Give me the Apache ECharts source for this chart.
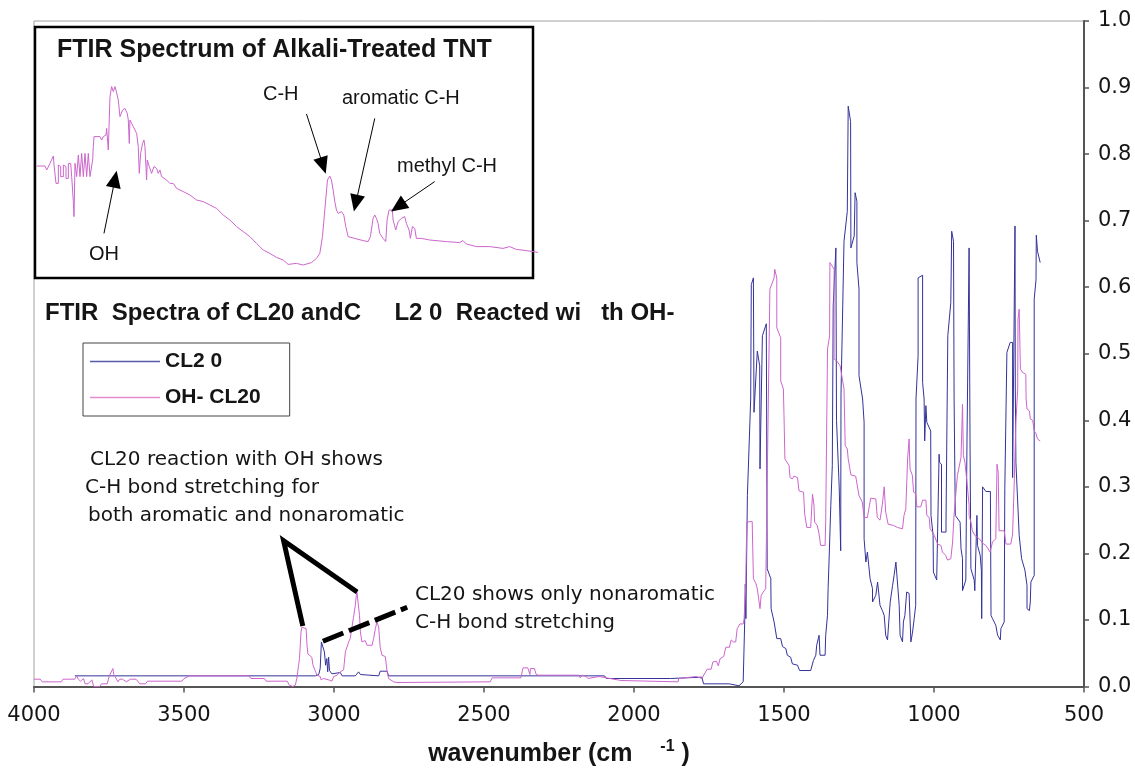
<!DOCTYPE html>
<html>
<head>
<meta charset="utf-8">
<script src="https://cdn.jsdelivr.net/npm/echarts@6/dist/echarts.min.js"></script>
<style>
  html, body { margin: 0; padding: 0; background: #fff; }
  #chart { width: 1135px; height: 772px; }
</style>
</head>
<body>
<div id="chart"></div>
<script>
// ---- CL20 spectrum: wavenumber (cm-1) and absorbance ----
const cl20Nu = [3864,3062,3051,3046,3042,3037,3032,3028,3024,3021,3018,3015,3010,3007,2979,2973,2929,2923,2918,2912,2907,2851,2846,2823,2818,2098,2092,1878,1872,1774,1768,1682,1676,1650,1636,1631,1629,1627,1622,1611,1609,1602,1600,1589,1581,1580,1572,1559,1556,1544,1543,1533,1524,1511,1505,1494,1489,1478,1472,1455,1448,1411,1402,1394,1391,1383,1380,1363,1361,1355,1353,1350,1344,1339,1336,1327,1325,1316,1311,1310,1300,1289,1286,1283,1278,1277,1266,1263,1257,1257,1250,1250,1238,1233,1233,1227,1222,1216,1213,1205,1205,1200,1194,1188,1188,1183,1180,1172,1166,1161,1155,1150,1146,1138,1133,1127,1122,1116,1113,1105,1102,1097,1091,1083,1077,1072,1066,1061,1060,1053,1053,1038,1038,1033,1031,1027,1024,1011,1010,1003,1002,991,983,982,975,975,960,960,955,954,944,941,935,933,929,913,910,905,905,894,890,883,880,877,866,864,857,855,846,842,841,838,832,827,812,810,805,794,788,779,777,766,764,757,746,738,738,732,730,729,727,716,712,708,697,690,690,682,679,677,666,666,660,659,655,646];
const cl20Abs = [0.016,0.016,0.018,0.027,0.067,0.066,0.052,0.032,0.042,0.022,0.044,0.024,0.022,0.019,0.021,0.016,0.016,0.018,0.022,0.018,0.016,0.016,0.023,0.023,0.016,0.016,0.012,0.012,0.014,0.014,0.004,0.004,0.001,0.001,0.007,0.097,0.154,0.102,0.287,0.432,0.604,0.614,0.412,0.504,0.482,0.327,0.527,0.545,0.177,0.162,0.117,0.097,0.072,0.072,0.060,0.057,0.047,0.044,0.034,0.032,0.024,0.024,0.039,0.047,0.062,0.077,0.047,0.047,0.077,0.107,0.147,0.187,0.272,0.332,0.572,0.659,0.400,0.300,0.204,0.440,0.669,0.714,0.872,0.870,0.849,0.659,0.677,0.742,0.729,0.637,0.597,0.467,0.432,0.397,0.222,0.187,0.202,0.200,0.162,0.147,0.127,0.127,0.137,0.137,0.157,0.154,0.122,0.114,0.107,0.077,0.070,0.070,0.127,0.152,0.167,0.187,0.184,0.122,0.077,0.067,0.097,0.107,0.142,0.140,0.067,0.080,0.102,0.122,0.432,0.497,0.614,0.618,0.457,0.432,0.369,0.422,0.397,0.384,0.257,0.227,0.172,0.160,0.349,0.337,0.334,0.232,0.232,0.247,0.247,0.527,0.577,0.684,0.669,0.432,0.257,0.247,0.207,0.192,0.144,0.160,0.372,0.659,0.372,0.177,0.160,0.144,0.257,0.212,0.197,0.174,0.102,0.300,0.302,0.293,0.293,0.107,0.102,0.092,0.077,0.070,0.087,0.097,0.297,0.502,0.517,0.517,0.314,0.317,0.692,0.447,0.337,0.227,0.224,0.192,0.175,0.152,0.117,0.114,0.127,0.157,0.167,0.582,0.611,0.678,0.654,0.637];

// ---- CL20 reacted with OH- ----
const ohNu = [4000,3979,3973,3909,3903,3890,3884,3877,3864,3858,3852,3845,3835,3830,3820,3807,3801,3781,3775,3756,3749,3743,3737,3734,3728,3720,3714,3705,3692,3679,3660,3647,3628,3622,3507,3500,3481,3283,3277,3232,3226,3156,3149,3137,3129,3124,3118,3115,3110,3107,3101,3093,3090,3087,3074,3070,3063,3057,3046,3043,3035,3018,3012,3007,3001,2990,2979,2968,2962,2957,2951,2946,2940,2935,2929,2924,2918,2915,2912,2907,2896,2890,2873,2868,2862,2857,2851,2846,2840,2829,2823,2818,2812,2801,2790,2479,2473,2377,2370,2354,2347,2345,2332,2326,2319,2185,2179,2172,2160,2153,2117,2043,2037,1853,1851,1792,1774,1756,1743,1737,1725,1719,1713,1701,1694,1682,1676,1669,1661,1656,1650,1647,1636,1633,1628,1624,1606,1602,1594,1589,1583,1580,1576,1569,1561,1556,1547,1533,1531,1524,1524,1511,1511,1502,1500,1497,1483,1480,1472,1467,1455,1450,1435,1431,1424,1411,1405,1400,1398,1389,1383,1378,1363,1361,1355,1348,1347,1333,1333,1324,1313,1300,1296,1289,1286,1280,1277,1261,1255,1250,1239,1233,1222,1211,1194,1189,1180,1172,1166,1161,1153,1135,1122,1105,1100,1094,1088,1083,1080,1072,1068,1061,1057,1044,1038,1027,1024,1016,1013,1005,999,988,977,972,961,955,944,938,933,927,922,910,905,902,897,890,883,883,877,872,864,849,835,827,813,805,794,790,786,783,777,766,760,744,738,733,727,721,720,716,712,705,694,693,690,682,679,671,666,660,655,646];
const ohAbs = [0.011,0.011,0.007,0.007,0.011,0.011,0.008,0.011,0.011,0.016,0.011,0.008,0.012,0.004,0.004,0.010,0.000,0.000,0.004,0.004,0.016,0.018,0.027,0.018,0.017,0.007,0.011,0.011,0.007,0.011,0.011,0.004,0.004,0.008,0.008,0.012,0.016,0.016,0.012,0.012,0.008,0.008,0.002,0.000,0.002,0.012,0.032,0.042,0.082,0.089,0.091,0.087,0.062,0.049,0.044,0.032,0.024,0.017,0.015,0.010,0.012,0.010,0.007,0.008,0.015,0.017,0.022,0.025,0.052,0.055,0.067,0.072,0.075,0.104,0.122,0.144,0.144,0.107,0.082,0.067,0.069,0.062,0.062,0.072,0.087,0.097,0.089,0.059,0.047,0.045,0.022,0.012,0.012,0.007,0.006,0.007,0.013,0.013,0.028,0.028,0.018,0.027,0.027,0.018,0.017,0.017,0.013,0.017,0.015,0.012,0.015,0.009,0.007,0.007,0.012,0.015,0.012,0.026,0.026,0.037,0.038,0.031,0.042,0.045,0.059,0.059,0.070,0.067,0.067,0.087,0.087,0.094,0.094,0.102,0.147,0.247,0.248,0.162,0.155,0.147,0.127,0.117,0.137,0.142,0.147,0.147,0.597,0.614,0.627,0.614,0.539,0.524,0.459,0.447,0.407,0.342,0.332,0.314,0.312,0.316,0.314,0.294,0.292,0.259,0.239,0.239,0.289,0.272,0.247,0.242,0.229,0.212,0.212,0.247,0.507,0.527,0.637,0.627,0.492,0.489,0.482,0.447,0.362,0.357,0.342,0.340,0.318,0.316,0.300,0.287,0.277,0.254,0.254,0.283,0.282,0.254,0.250,0.274,0.300,0.262,0.244,0.242,0.239,0.237,0.257,0.267,0.342,0.372,0.327,0.317,0.292,0.290,0.270,0.270,0.280,0.280,0.257,0.254,0.237,0.232,0.227,0.214,0.212,0.202,0.197,0.190,0.192,0.217,0.259,0.262,0.317,0.344,0.424,0.347,0.337,0.307,0.272,0.257,0.247,0.234,0.227,0.222,0.214,0.212,0.202,0.217,0.222,0.334,0.322,0.234,0.232,0.234,0.214,0.214,0.229,0.300,0.397,0.447,0.552,0.567,0.477,0.472,0.469,0.432,0.417,0.414,0.402,0.400,0.384,0.380,0.372,0.369];

// ---- Alkali-treated TNT (inset) ----
const tntNu = [4000,3975,3970,3960,3950,3948,3942,3942,3935,3935,3928,3928,3920,3920,3912,3912,3905,3905,3898,3895,3890,3888,3885,3880,3875,3870,3865,3860,3855,3850,3845,3840,3835,3832,3830,3828,3810,3805,3800,3792,3790,3785,3780,3775,3770,3765,3762,3758,3755,3750,3742,3735,3728,3725,3722,3720,3715,3710,3700,3695,3692,3688,3682,3678,3675,3670,3668,3662,3655,3648,3640,3635,3630,3625,3620,3610,3600,3590,3580,3560,3540,3520,3500,3480,3460,3440,3420,3400,3380,3360,3340,3320,3300,3280,3260,3245,3220,3200,3175,3160,3150,3142,3135,3127,3120,3115,3110,3105,3100,3095,3085,3078,3072,3065,3045,3020,3005,2998,2990,2985,2980,2975,2970,2960,2952,2948,2942,2938,2932,2930,2922,2915,2905,2895,2890,2882,2878,2872,2865,2860,2845,2820,2770,2730,2720,2710,2680,2640,2600,2580,2560,2530,2495];
const tntAbs = [0.520,0.520,0.500,0.533,0.570,0.525,0.525,0.433,0.433,0.525,0.517,0.467,0.467,0.525,0.517,0.458,0.458,0.533,0.533,0.467,0.342,0.267,0.533,0.467,0.575,0.467,0.583,0.467,0.583,0.467,0.583,0.467,0.467,0.550,0.617,0.667,0.667,0.650,0.667,0.675,0.708,0.600,0.867,0.917,0.892,0.917,0.900,0.892,0.850,0.767,0.800,0.808,0.783,0.750,0.633,0.750,0.733,0.717,0.683,0.617,0.483,0.583,0.633,0.650,0.617,0.450,0.550,0.517,0.483,0.517,0.508,0.483,0.500,0.467,0.475,0.450,0.433,0.433,0.408,0.392,0.375,0.350,0.342,0.325,0.308,0.275,0.250,0.217,0.192,0.167,0.133,0.100,0.083,0.063,0.050,0.028,0.033,0.025,0.037,0.058,0.083,0.167,0.300,0.450,0.470,0.450,0.400,0.342,0.300,0.283,0.292,0.275,0.217,0.167,0.158,0.147,0.142,0.167,0.258,0.275,0.258,0.233,0.183,0.158,0.142,0.250,0.300,0.308,0.300,0.250,0.200,0.242,0.258,0.267,0.233,0.200,0.158,0.217,0.208,0.158,0.158,0.150,0.142,0.137,0.147,0.130,0.117,0.117,0.108,0.117,0.103,0.097,0.088];

// ---- Callout lines on the main plot (data coordinates) ----
const calloutSolidNu = [3104, 3168, 2923];
const calloutSolidAbs = [0.091, 0.219, 0.142];
const calloutDashNu = [3037, 2756];
const calloutDashAbs = [0.068, 0.119];

// ---- Inset arrows: [tailNu, tailAbs, tipNu, tipAbs] ----
const insetArrows = [
  [3190, 0.780, 3140, 0.522],   // C-H
  [2985, 0.758, 3042, 0.334],   // aromatic C-H
  [2805, 0.442, 2915, 0.317],   // methyl C-H
  [3798, 0.183, 3765, 0.454]    // OH
];

// ---- Axis ticks ----
const nuTicks = { min: 500, max: 4000, step: 500 };
const absTicks = { min: 0, max: 1, step: 0.1 };

const pairs = (xs, ys) => xs.map((x, i) => [x, ys[i]]);

const AXIS = '#555';
const TXT = '#151515';
const BLUE = '#333399';
const PINK = '#CC66CC';
const NARROW = "'Liberation Sans Narrow', 'Liberation Sans', Arial, sans-serif";
const NOTE_FONT = "20px 'DejaVu Sans', sans-serif";
const INSET_FONT = "20px 'Liberation Sans', Arial, sans-serif";

const chart = echarts.init(document.getElementById('chart'), null, { renderer: 'canvas' });

const textEl = (text, x, y, font) => ({
  type: 'text', x: x, y: y, z: 20, silent: true,
  style: { text: text, font: font, fill: TXT, textAlign: 'left', textVerticalAlign: 'middle', align: 'left', verticalAlign: 'middle' }
});

chart.setOption({
  animation: false,
  backgroundColor: '#fff',
  grid: [
    { left: 34, right: 51, top: 21, bottom: 84, show: true, borderColor: '#a0a0a0', borderWidth: 1 },
    { left: 36.7, width: 501.6, top: 70, height: 200 }
  ],
  xAxis: [
    {
      type: 'value', gridIndex: 0, min: nuTicks.min, max: nuTicks.max, interval: nuTicks.step,
      inverse: true, position: 'bottom',
      axisLine: { show: true, onZero: false, lineStyle: { color: AXIS, width: 2 } },
      axisTick: { show: true, inside: false, length: 6, lineStyle: { color: AXIS, width: 1.5 } },
      axisLabel: { fontFamily: 'DejaVu Sans', fontSize: 21, color: TXT, margin: 19, formatter: v => String(v) },
      splitLine: { show: false },
      name: '{t|wavenumber (cm}{g|}{s|-1}{t| )}',
      nameLocation: 'middle', nameGap: 52,
      nameTextStyle: {
        rich: {
          t: { fontFamily: 'Liberation Sans', fontWeight: 'bold', fontSize: 25, color: TXT },
          g: { width: 28 },
          s: { fontFamily: 'Liberation Sans', fontWeight: 'bold', fontSize: 16, color: TXT, padding: [0, 0, 16, 0] }
        }
      }
    },
    { type: 'value', gridIndex: 1, min: 2494, max: 4000, inverse: true, show: false }
  ],
  yAxis: [
    {
      type: 'value', gridIndex: 0, min: absTicks.min, max: absTicks.max, interval: absTicks.step,
      position: 'right',
      axisLine: { show: true, onZero: false, lineStyle: { color: AXIS, width: 2 } },
      axisTick: { show: true, inside: false, length: 5, lineStyle: { color: AXIS, width: 1.5 } },
      axisLabel: { fontFamily: 'DejaVu Sans', fontSize: 21, color: TXT, margin: 14, formatter: v => v.toFixed(1) },
      splitLine: { show: false }
    },
    { type: 'value', gridIndex: 1, min: 0, max: 1, show: false }
  ],
  legend: {
    data: ['CL20', 'OH- CL20'],
    orient: 'vertical', left: 83, top: 343,
    icon: 'rect', itemWidth: 70, itemHeight: 1.5, itemGap: 15,
    padding: [8, 29, 8, 7],
    borderColor: '#444', borderWidth: 1,
    formatter: n => (n === 'CL20' ? 'CL2 0' : n),
    textStyle: { fontFamily: NARROW, fontWeight: 'bold', fontSize: 21, color: TXT }
  },
  graphic: [
    {
      type: 'rect', z: 1, silent: true,
      shape: { x: 35, y: 27, width: 498, height: 251 },
      style: { fill: '#fff', stroke: '#000', lineWidth: 2.5 }
    },
    textEl('FTIR Spectrum of Alkali-Treated TNT', 57, 50, "bold 25px 'Liberation Sans', Arial, sans-serif"),
    textEl('C-H', 263, 94, INSET_FONT),
    textEl('aromatic C-H', 342, 98, INSET_FONT),
    textEl('methyl C-H', 397, 166, INSET_FONT),
    textEl('OH', 89, 254, INSET_FONT),
    textEl('FTIR  Spectra of CL20 andC     L2 0  Reacted wi   th OH-', 45, 313, "bold 24px " + NARROW),
    textEl('CL20 reaction with OH shows', 90, 460, NOTE_FONT),
    textEl('C-H bond stretching for', 85, 488, NOTE_FONT),
    textEl('both aromatic and nonaromatic', 88, 516, NOTE_FONT),
    textEl('CL20 shows only nonaromatic', 415, 595, NOTE_FONT),
    textEl('C-H bond stretching', 415, 623, NOTE_FONT)
  ],
  series: [
    {
      name: 'CL20', type: 'line', xAxisIndex: 0, yAxisIndex: 0,
      data: pairs(cl20Nu, cl20Abs), symbol: 'none', showSymbol: false, z: 3,
      lineStyle: { color: BLUE, width: 1 }, itemStyle: { color: '#5a5aa8' }
    },
    {
      name: 'OH- CL20', type: 'line', xAxisIndex: 0, yAxisIndex: 0,
      data: pairs(ohNu, ohAbs), symbol: 'none', showSymbol: false, z: 3,
      lineStyle: { color: PINK, width: 1 }, itemStyle: { color: '#E48BCB' }
    },
    {
      name: 'callout-solid', type: 'line', xAxisIndex: 0, yAxisIndex: 0, silent: true,
      data: pairs(calloutSolidNu, calloutSolidAbs), symbol: 'none', z: 6,
      lineStyle: { color: '#000', width: 5, join: 'miter', cap: 'butt' }
    },
    {
      name: 'callout-dash', type: 'line', xAxisIndex: 0, yAxisIndex: 0, silent: true,
      data: pairs(calloutDashNu, calloutDashAbs), symbol: 'none', z: 6,
      lineStyle: { color: '#000', width: 5, type: [22, 6], cap: 'butt' }
    },
    {
      name: 'TNT', type: 'line', xAxisIndex: 1, yAxisIndex: 1,
      data: pairs(tntNu, tntAbs), symbol: 'none', showSymbol: false, z: 3,
      lineStyle: { color: PINK, width: 1 },
      markLine: {
        silent: true, animation: false,
        label: { show: false },
        lineStyle: { color: '#000', width: 1, type: 'solid' },
        data: insetArrows.map(a => [
          { coord: [a[0], a[1]], symbol: 'none' },
          { coord: [a[2], a[3]], symbol: 'triangle', symbolSize: [15, 17] }
        ])
      }
    }
  ]
});
</script>
</body>
</html>
